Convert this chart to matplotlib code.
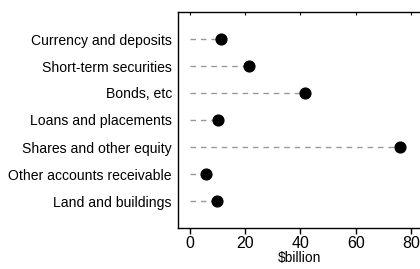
import matplotlib
matplotlib.use("Agg")
import matplotlib.pyplot as plt

categories = ["Currency and deposits", "Short-term securities", "Bonds, etc",
              "Loans and placements", "Shares and other equity",
              "Other accounts receivable", "Land and buildings"]
values = [11.2, 21.3, 41.8, 10.0, 76.2, 5.8, 9.8]
xticks = [0, 20, 40, 60, 80]

plt.rcParams['font.family'] = ['Liberation Sans', 'DejaVu Sans']
fig = plt.figure(figsize=(4.2, 2.69), dpi=100)
ax = fig.add_axes([178/420, 1-228/269, 1-178/420, (228-12)/269])

ypos = list(range(len(categories)))
for y, v in zip(ypos, values):
    ax.plot([0, v], [y, y], color="#999999", lw=1.0, dashes=(4, 3.5), zorder=1)
ax.scatter(values, ypos, s=60, color="black", zorder=3)

ax.set_ylim(7, -1)
ax.set_xlim(-4.3, 83.3)
ax.set_yticks(ypos)
ax.set_yticklabels(categories, fontsize=10.1)
ax.set_xticks(xticks)
ax.set_xticklabels([str(t) for t in xticks], fontsize=11.5)
ax.tick_params(axis='y', length=0, pad=4.5)
ax.tick_params(axis='x', direction='out', length=4, width=1, pad=2, top=False)
ax.set_xlabel("$billion", fontsize=10, labelpad=0)
ax.spines['right'].set_visible(False)
for s in ['left', 'bottom', 'top']:
    ax.spines[s].set_linewidth(1.0)
ax2 = ax.secondary_xaxis('top')
ax2.set_xticks(xticks)
ax2.tick_params(direction='in', length=2, labeltop=False)
ax2.spines['top'].set_visible(False)

fig.savefig("out.png", dpi=100)
